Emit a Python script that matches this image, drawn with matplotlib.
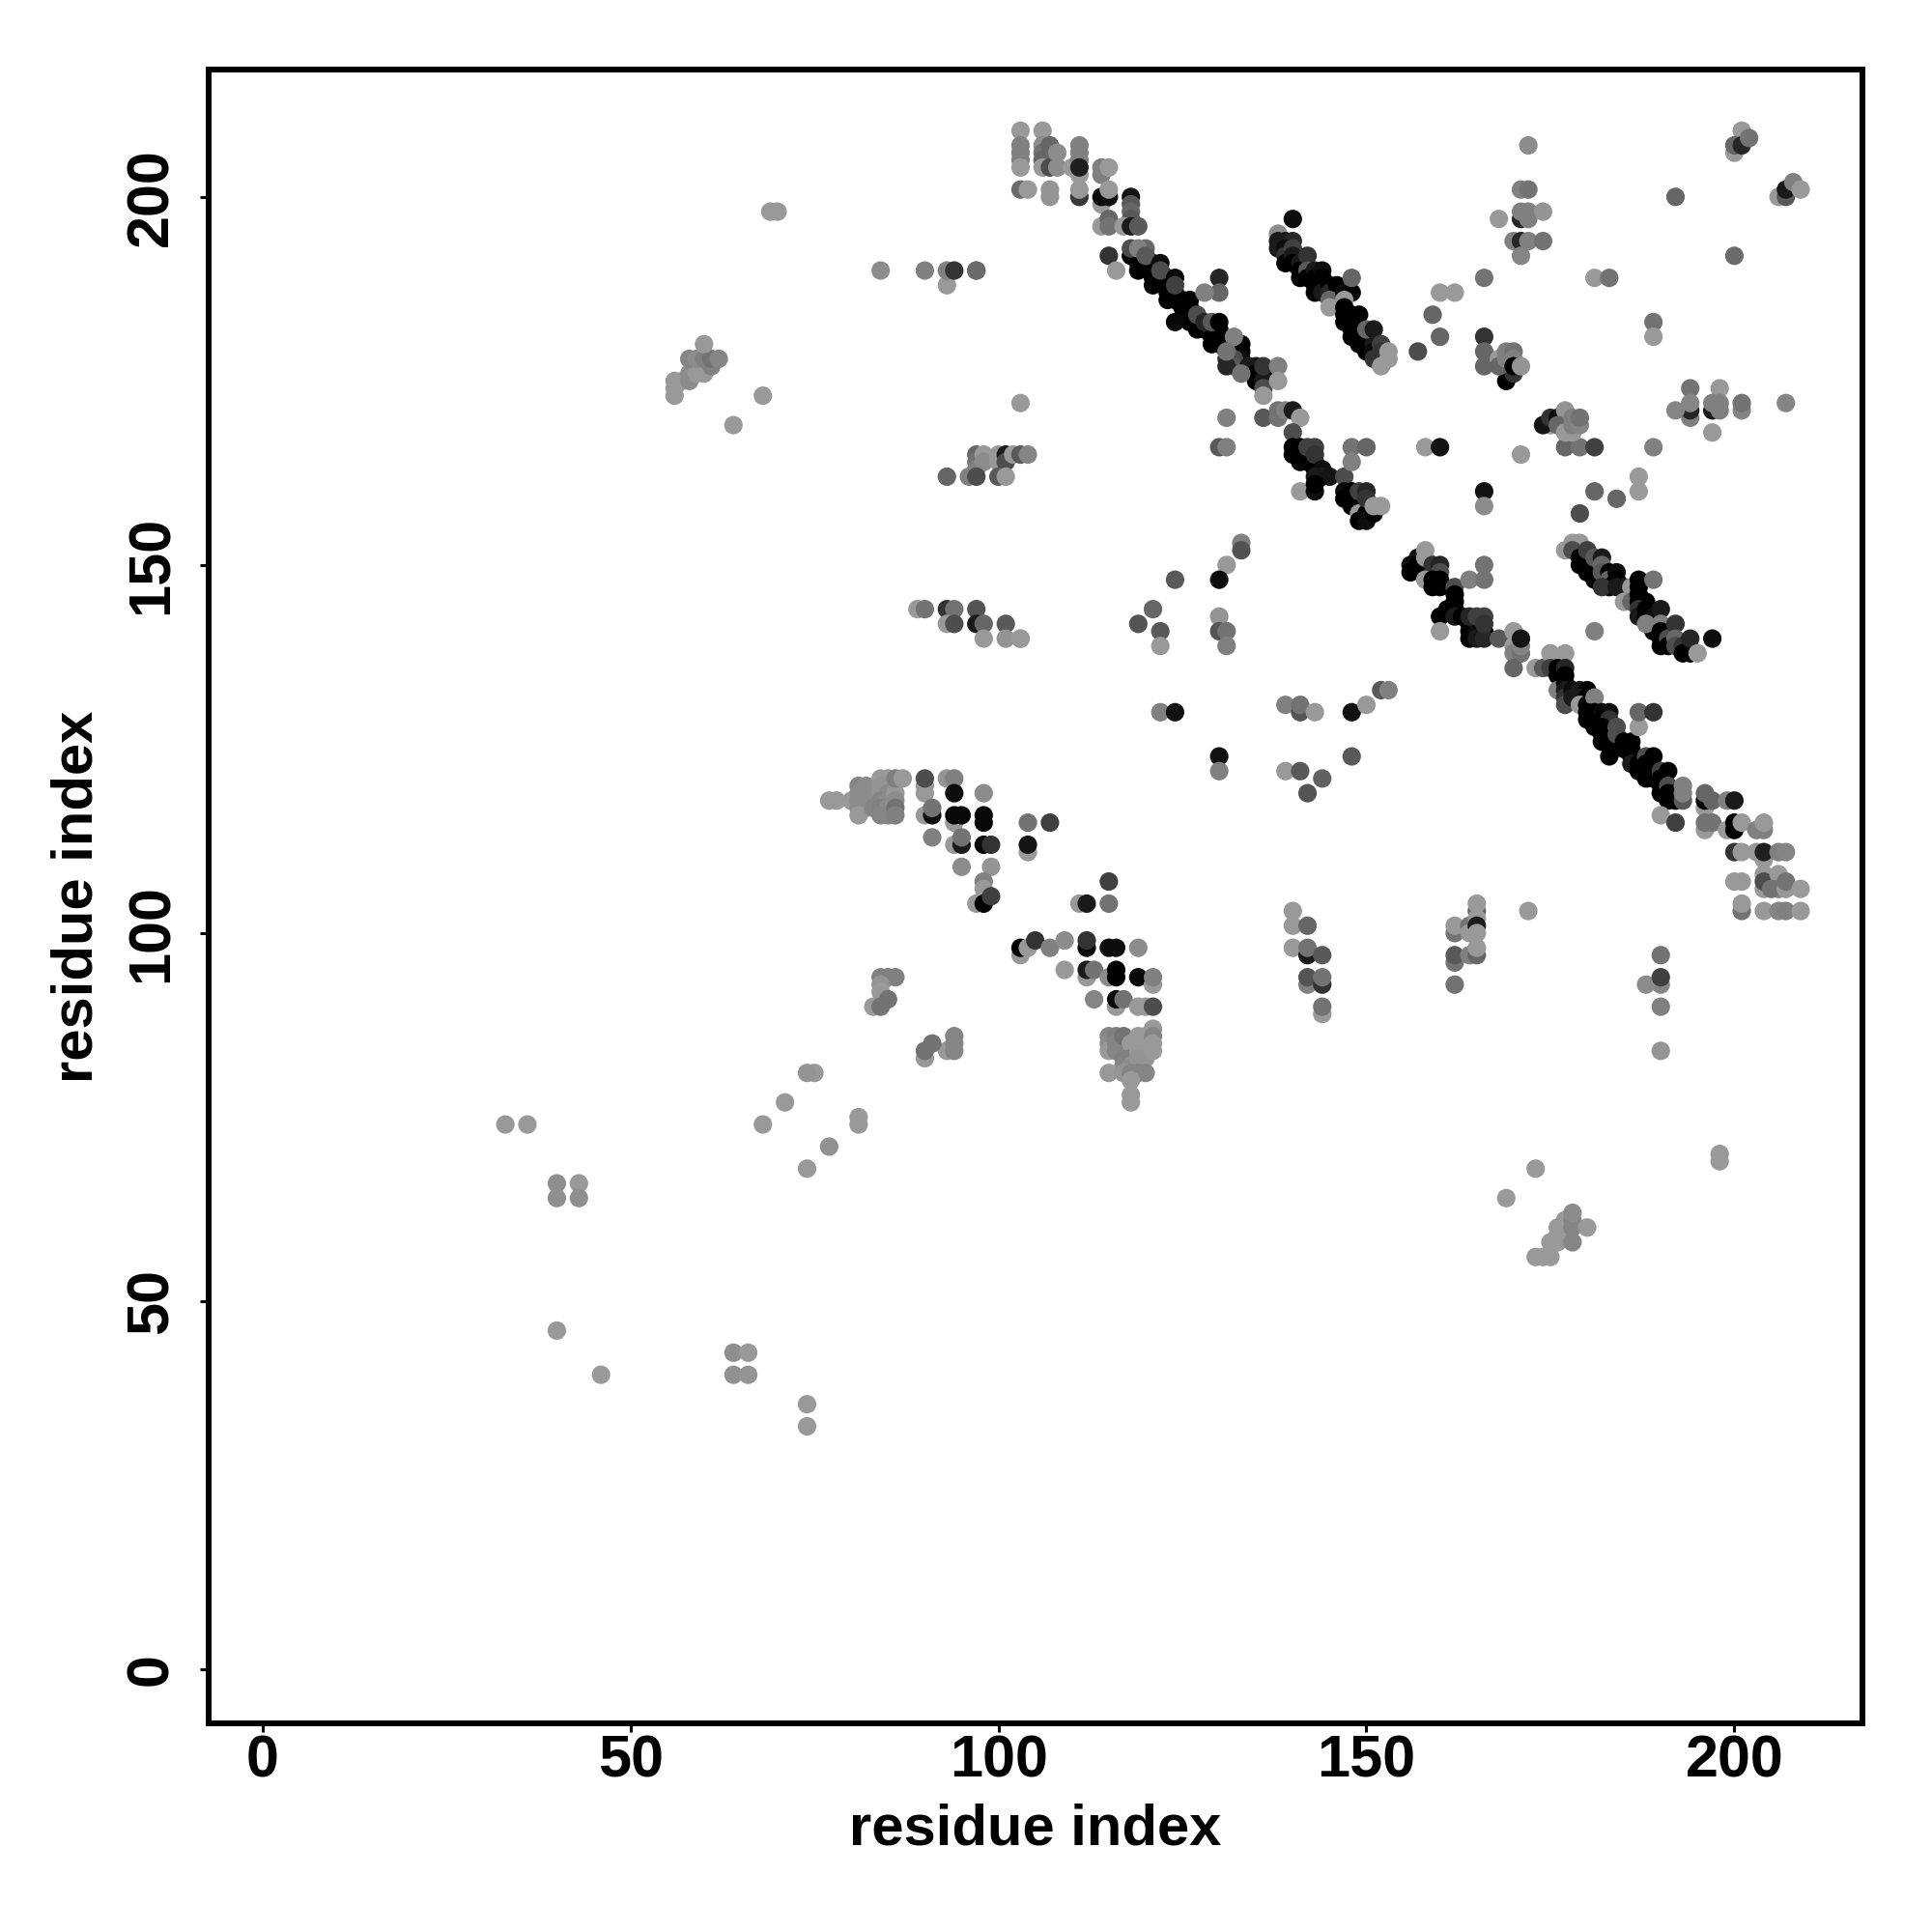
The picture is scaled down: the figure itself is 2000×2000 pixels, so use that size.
import matplotlib
matplotlib.use("Agg")
import matplotlib.pyplot as plt

# contacts as (residue x, residue y, grey level), drawn in the listed order
top_cluster = [
    (103, 209, .6), (103, 207, .5), (103, 206, .5), (103, 205, .5), (103, 204, .6),
    (103, 201, .42), (104, 201, .6), (106, 209, .6), (106, 207, .55), (106, 206, .45),
    (106, 205, .4), (106, 204, .6), (107, 204, .3), (107, 207, .4), (108, 206, .55),
    (108, 204, .55), (107, 201, .58), (107, 200, .58), (110, 204, .6), (111, 207, .5),
    (111, 206, .5), (111, 205, .5), (111, 203, .6), (111, 200, .22), (111, 201, .6),
    (111, 204, .12), (114, 204, .5), (114, 203, .5), (115, 204, .6), (114, 199, .6),
    (114, 200, .05), (115, 200, .05), (115, 201, .6), (118, 200, .07), (118, 199, .35),
    (118, 198, .4), (118, 197, .35), (114, 196, .6), (115, 197, .4), (115, 196, .45),
    (117, 196, .6), (118, 196, .1), (119, 196, .35), (115, 192, .2), (116, 190, .6),
    (97, 190, .42),
]

main_diag_upper = [
    (118, 192, 0), (119, 192, 0), (119, 191, 0), (119, 190, 0), (120, 191, 0), (120, 192, 0),
    (121, 190, 0), (121, 191, 0), (121, 189, 0), (121, 188, 0), (122, 190, 0), (122, 189, 0),
    (123, 189, 0), (123, 188, 0), (123, 187, 0), (123, 186, 0), (124, 187, 0), (124, 186, 0),
    (125, 186, 0), (125, 185, 0), (126, 186, 0), (126, 185, 0), (126, 184, 0), (127, 183, 0),
    (127, 182, 0), (126, 183, 0), (128, 182, 0), (129, 182, .12), (129, 181, 0), (130, 182, 0),
    (130, 181, 0), (129, 180, 0), (130, 180, 0), (131, 180, 0), (131, 179, 0), (132, 179, 0),
    (132, 180, 0), (133, 180, 0), (133, 179, 0), (133, 178, .05), (133, 177, .1), (132, 178, .3),
    (131, 178, .2), (132, 177, .35), (131, 177, .15), (134, 177, .1), (135, 177, .1), (135, 176, 0),
    (136, 176, 0), (135, 175, 0), (136, 175, .1), (118, 193, .3), (120, 193, .4), (119, 193, .5),
    (120, 192, .35), (122, 191, .05), (122, 190, .3), (124, 189, .03), (124, 188, .25),
    (124, 183, .03), (127, 184, .3), (128, 183, .15), (129, 183, .35), (130, 183, 0),
    (132, 181, .5), (131, 179, .45), (133, 176, .45), (136, 177, .2), (136, 174, .3),
    (136, 173, .6), (138, 177, .5), (138, 175, .6), (130, 189, .15), (130, 187, .4), (128, 187, .5),
]

second_diag = [
    (140, 197, .05), (138, 195, .55), (138, 194, .1), (138, 193, .1), (139, 194, .1), (140, 194, .15),
    (139, 193, .05), (139, 192, .2), (139, 191, 0), (140, 193, .25), (140, 192, .1), (140, 191, 0),
    (141, 191, .1), (141, 190, 0), (141, 189, 0), (142, 192, .2), (142, 190, .35), (142, 189, 0),
    (143, 190, .1), (143, 189, 0), (143, 188, 0), (143, 187, 0), (144, 190, .05), (144, 189, 0),
    (144, 188, 0), (144, 187, .1), (145, 188, 0), (145, 187, .15), (146, 188, 0), (146, 187, 0),
    (145, 186, .4), (145, 185, .6), (147, 187, .05), (148, 187, 0), (147, 186, .6), (148, 189, .4),
    (149, 184, 0), (147, 185, 0), (147, 184, 0), (147, 183, 0), (148, 184, 0), (148, 183, 0),
    (148, 182, 0), (148, 181, 0), (149, 182, 0), (149, 181, 0), (149, 180, 0), (150, 181, 0),
    (150, 180, 0), (150, 179, 0), (151, 180, .1), (151, 179, .05), (150, 182, .4), (151, 182, .1),
    (152, 180, .25), (152, 179, .2), (151, 178, .2), (152, 177, .6), (153, 179, .6), (153, 178, .6),
]

mid_diag = [
    (131, 170, .5), (136, 170, .35), (138, 170, .45), (138, 171, .45), (139, 171, .5), (140, 171, .1),
    (141, 170, .6), (140, 168, .3), (130, 166, .35), (131, 166, .5), (140, 166, 0), (140, 165, 0),
    (141, 166, 0), (141, 165, 0), (141, 164, 0), (142, 165, 0), (142, 164, 0), (143, 164, .05),
    (143, 163, 0), (142, 166, .25), (143, 166, .25), (143, 165, .2), (144, 163, .05), (144, 162, .1),
    (143, 162, .1), (145, 162, .08), (141, 160, .6), (143, 160, .05), (143, 161, 0), (147, 162, .3),
    (148, 166, .45), (150, 166, .4), (148, 164, .5), (147, 160, .05), (147, 159, 0), (148, 160, 0),
    (148, 159, 0), (148, 158, 0), (149, 158, 0), (149, 157, .6), (149, 156, 0), (150, 157, 0),
    (150, 156, .05), (151, 157, 0), (149, 160, .25), (150, 160, .15), (150, 159, .2), (151, 158, .6),
    (152, 158, .6), (103, 172, .6), (158, 166, .6), (160, 166, .07), (133, 153, .5), (133, 152, .32),
    (131, 150, .6), (130, 148, .05), (124, 148, .35), (121, 144, .4), (119, 142, .33), (122, 141, .35),
    (122, 139, .6), (130, 143, .58), (130, 141, .33), (131, 141, .45), (131, 139, .5), (103, 140, .6),
    (122, 130, .5), (124, 130, .07), (139, 131, .5), (141, 130, .33), (141, 131, .45), (143, 130, .6),
    (148, 130, .07), (150, 131, .6), (152, 133, .35), (153, 133, .5), (130, 124, .07), (130, 122, .5),
    (139, 122, .6), (141, 122, .35), (144, 121, .38), (142, 119, .33), (148, 124, .35),
]

upper_right = [
    (172, 207, .55), (171, 201, .5), (172, 201, .45), (168, 197, .6), (171, 197, .15), (171, 198, .5),
    (172, 198, .5), (172, 197, .5), (174, 198, .58), (170, 194, .5), (171, 194, .15), (172, 194, .5),
    (174, 194, .45), (171, 192, .52), (166, 189, .45), (160, 187, .6), (162, 187, .6), (159, 184, .4),
    (160, 181, .4), (157, 179, .3), (166, 181, .2), (166, 179, .4), (166, 177, .4), (169, 175, 0),
    (170, 176, .2), (168, 178, .6), (168, 177, .4), (169, 178, .5), (169, 179, .5), (170, 179, .45),
    (170, 178, .5), (170, 177, 0), (171, 177, .58), (181, 189, .6), (183, 189, .45), (189, 183, .45),
    (189, 181, .6), (192, 200, .4), (200, 192, .42), (200, 206, .6), (201, 209, .6), (200, 207, .4),
    (201, 207, .15), (202, 208, .45), (206, 200, .6), (207, 200, .35), (207, 201, .1), (208, 202, .5),
    (209, 201, .6), (207, 172, .52), (194, 174, .45), (194, 170, .5), (194, 171, .15), (194, 172, .52),
    (192, 171, .52), (198, 174, .6), (197, 171, .1), (197, 172, .5), (198, 172, .5), (198, 171, .5),
    (201, 171, .52), (201, 172, .45), (197, 168, .6), (189, 166, .5), (177, 166, .4), (179, 166, .45),
    (181, 166, .25), (171, 165, .6), (166, 160, .07), (166, 158, .55), (181, 160, .4), (184, 159, .4),
    (187, 162, .6), (187, 160, .6), (179, 157, .3), (175, 169, .6), (174, 169, .08), (175, 170, .2),
    (176, 170, .05), (177, 171, .58), (176, 169, .4), (177, 168, .6), (178, 168, .6), (178, 170, .5),
    (178, 169, .5), (179, 169, .52), (179, 170, .45),
]

diag_156_171 = [
    (156, 150, .05), (156, 149, 0), (157, 151, .05), (157, 150, 0), (158, 150, 0), (159, 149, 0),
    (158, 152, .6), (158, 151, .6), (159, 150, .2), (160, 150, .15), (160, 149, .3), (158, 148, .6),
    (159, 148, 0), (159, 147, 0), (160, 148, 0), (160, 147, 0), (162, 147, .3), (164, 148, .5),
    (166, 150, .45), (166, 148, .45), (162, 146, 0), (162, 145, 0), (162, 144, 0), (160, 143, 0),
    (161, 144, 0), (162, 143, .1), (163, 143, 0), (164, 142, 0), (164, 141, 0), (164, 140, 0),
    (165, 141, .05), (166, 141, 0), (165, 140, .1), (166, 140, .15), (164, 143, .15), (165, 143, .25),
    (166, 143, .25), (166, 142, .2), (168, 140, .35), (160, 141, .6), (170, 141, .6), (170, 139, .6),
    (170, 138, .5), (171, 138, .45), (171, 139, .52), (171, 140, .08), (170, 136, .4), (181, 141, .5),
]

diag_177_197 = [
    (177, 152, .6), (178, 153, .6), (179, 153, .6), (178, 152, .3), (179, 151, 0), (179, 150, 0),
    (180, 151, 0), (180, 150, 0), (180, 149, 0), (181, 150, 0), (181, 149, 0), (181, 148, 0),
    (180, 152, .25), (181, 151, .35), (182, 151, .1), (182, 150, .4), (182, 149, .35), (183, 149, 0),
    (183, 148, .4), (184, 149, .05), (184, 148, 0), (183, 147, 0), (182, 147, .2), (184, 147, .1),
    (185, 147, .1), (185, 145, .6), (186, 147, .6), (186, 145, .4), (187, 148, 0), (187, 147, 0),
    (187, 146, 0), (187, 145, 0), (188, 145, 0), (187, 144, .2), (187, 143, .1), (188, 144, 0),
    (188, 143, 0), (189, 148, .45), (189, 143, .05), (189, 142, 0), (189, 141, 0), (188, 142, .5),
    (190, 144, .1), (190, 142, .5), (190, 141, 0), (190, 140, 0), (190, 139, 0), (191, 140, .3),
    (191, 139, 0), (192, 142, .2), (192, 140, .4), (192, 139, .3), (193, 139, .2), (193, 138, 0),
    (194, 138, 0), (194, 140, .15), (197, 140, .05), (195, 138, .6),
]

main_diag_lower = [
    (173, 136, .6), (174, 136, .35), (175, 138, .6), (177, 138, .6), (175, 136, .25), (176, 136, 0),
    (176, 135, 0), (177, 136, .15), (177, 135, 0), (176, 133, .5), (177, 134, 0), (177, 133, .1),
    (177, 132, .2), (177, 131, .3), (178, 133, .05), (178, 132, .1), (179, 133, .1), (180, 133, 0),
    (179, 132, .1), (180, 132, 0), (179, 131, .6), (180, 131, 0), (181, 132, .5), (180, 130, 0),
    (180, 129, 0), (181, 130, 0), (181, 129, 0), (181, 128, 0), (182, 130, .03), (183, 130, .05),
    (182, 129, 0), (183, 129, .2), (182, 128, 0), (182, 127, 0), (182, 126, 0), (183, 127, 0),
    (183, 126, 0), (183, 124, 0), (184, 128, .3), (184, 127, .3), (185, 126, 0), (186, 126, 0),
    (185, 125, 0), (186, 125, 0), (186, 124, 0), (186, 123, .1), (187, 128, .6), (187, 130, .4),
    (189, 130, .2), (187, 123, 0), (187, 122, 0), (188, 124, .3), (189, 124, 0), (188, 123, 0),
    (188, 122, 0), (188, 121, 0), (189, 122, 0), (189, 121, 0), (190, 122, .25), (191, 122, 0),
    (190, 121, 0), (190, 120, 0), (190, 119, 0), (191, 120, .3), (191, 119, 0), (191, 118, 0),
    (192, 119, 0), (192, 118, 0), (193, 118, .35), (193, 119, .5), (193, 120, .5), (190, 116, .6),
    (192, 115, .25),
]

right_end = [
    (196, 117, .6), (196, 118, 0), (196, 119, .4), (197, 118, .4), (199, 118, .5), (200, 118, .1),
    (196, 114, .6), (196, 115, .45), (197, 115, .45), (199, 114, .6), (200, 114, 0), (200, 115, 0),
    (201, 115, .6), (203, 114, .5), (204, 114, .5), (204, 115, .6), (200, 111, .2), (201, 111, .6),
    (203, 111, .6), (204, 110, .6), (204, 111, .12), (206, 111, .5), (207, 111, .52), (200, 107, .6),
    (201, 107, .6), (204, 108, .6), (204, 106, .6), (204, 107, .3), (206, 108, .6), (206, 106, .5),
    (205, 106, .45), (207, 106, .6), (207, 107, .45), (209, 106, .6), (201, 103, .45), (201, 104, .6),
    (204, 103, .6), (206, 103, .52), (207, 103, .5), (209, 103, .6),
]

columns_140_198 = [
    (140, 103, .6), (140, 101, .6), (142, 101, .4), (140, 98, .6), (142, 97, .1), (142, 98, .45),
    (144, 97, .35), (142, 93, .5), (142, 94, .33), (144, 93, .2), (144, 94, .45), (144, 89, .6),
    (144, 90, .45), (162, 100, .45), (162, 101, .6), (164, 101, .45), (164, 100, .6), (165, 103, .4),
    (165, 104, .6), (165, 102, .6), (165, 101, .1), (165, 100, .6), (162, 96, .45), (162, 97, .35),
    (164, 97, .5), (165, 97, .4), (165, 98, .6), (162, 93, .45), (172, 103, .6), (190, 97, .45),
    (190, 93, .52), (188, 93, .55), (190, 94, .25), (190, 90, .5), (190, 84, .58), (198, 70, .6),
    (198, 69, .6), (173, 68, .6), (169, 64, .6),
]

low_right = [
    (173, 56, .6), (174, 56, .6), (175, 56, .6), (175, 58, .6), (176, 58, .6), (176, 59, .6),
    (177, 59, .6), (176, 60, .6), (177, 61, .6), (178, 58, .52), (178, 60, .52), (178, 61, .52),
    (178, 62, .55), (180, 60, .6),
]

cluster_80_90 = [
    (77, 118, .6), (78, 118, .6), (80, 118, .6), (81, 120, .52), (82, 120, .55), (81, 119, .55),
    (82, 119, .55), (81, 118, .55), (82, 118, .55), (81, 117, .55), (82, 117, .55), (81, 116, .6),
    (83, 117, .52), (84, 121, .6), (85, 121, .6), (84, 120, .58), (85, 120, .58), (84, 119, .58),
    (85, 119, .55), (84, 118, .52), (85, 118, .55), (84, 117, .5), (85, 117, .55), (84, 116, .52),
    (85, 116, .52), (86, 119, .6), (86, 118, .55), (86, 117, .45), (86, 116, .5), (86, 121, .5),
    (87, 121, .6), (90, 119, .6), (90, 120, .6), (90, 121, .3), (93, 121, .58), (94, 121, .5),
    (94, 119, .05), (98, 119, .55), (90, 116, .6), (91, 116, .05), (91, 117, .45), (94, 115, .6),
    (94, 116, .03), (95, 116, .03), (98, 116, .03), (98, 115, .03), (91, 113, .5), (94, 112, .6),
    (95, 112, .1), (95, 113, .45), (98, 112, .03), (99, 112, .2), (104, 115, .45), (107, 115, .25),
    (104, 111, .6), (104, 112, .08), (95, 109, .55), (99, 109, .58), (98, 107, .5), (97, 104, .6),
    (98, 106, .6), (98, 104, 0), (99, 105, .25),
]

cluster_103_121 = [
    (115, 107, .25), (111, 104, .6), (112, 104, .1), (115, 104, .45), (103, 97, .6), (103, 98, 0),
    (104, 98, .6), (105, 99, .2), (107, 98, .5), (109, 99, .55), (112, 98, .03), (112, 99, .2),
    (115, 98, .05), (116, 98, .05), (119, 98, .55), (109, 95, .6), (112, 94, .6), (112, 95, .1),
    (113, 95, .45), (115, 94, .55), (116, 95, 0), (116, 94, 0), (119, 94, .03), (121, 93, .6),
    (121, 94, .5), (113, 91, .52), (116, 90, .6), (116, 91, .03), (117, 91, .45), (119, 90, .6),
    (120, 90, .6), (121, 90, .3), (115, 86, .52), (115, 85, .55), (115, 84, .6), (116, 86, .5),
    (116, 85, .52), (116, 84, .52), (117, 86, .45), (117, 83, .5), (117, 82, .52), (118, 85, .6),
    (118, 83, .5), (118, 82, .55), (119, 86, .6), (119, 85, .6), (119, 84, .6), (119, 83, .58),
    (120, 86, .6), (120, 85, .6), (120, 83, .58), (121, 87, .6), (121, 86, .52), (121, 85, .6),
    (121, 84, .6), (115, 81, .6), (117, 81, .58), (118, 81, .52), (119, 81, .52), (120, 81, .52),
    (118, 80, .6), (118, 78, .6), (118, 77, .6),
]

left_strand = [
    (84, 94, .5), (85, 94, .5), (86, 94, .5), (84, 93, .58), (84, 92, .6), (83, 90, .6),
    (84, 90, .45), (85, 91, .45), (93, 84, .6), (94, 86, .52), (94, 85, .52), (94, 84, .52),
    (90, 83, .6), (90, 84, .45), (91, 85, .45), (81, 75, .6), (81, 74, .6), (77, 71, .57),
    (75, 81, .6), (74, 81, .58), (71, 77, .6), (68, 74, .6), (74, 68, .6), (33, 74, .6),
    (36, 74, .6), (40, 66, .56), (43, 66, .6), (40, 64, .56), (43, 64, .56), (40, 46, .6),
    (46, 40, .6), (64, 43, .56), (66, 43, .6), (64, 40, .57), (66, 40, .58), (74, 36, .6),
    (74, 33, .6), (70, 198, .6), (69, 198, .6),
]

upper_left = [
    (56, 173, .6), (56, 174, .6), (56, 175, .6), (57, 175, .6), (58, 175, .55), (58, 176, .55),
    (59, 176, .6), (60, 176, .6), (61, 177, .5), (58, 178, .52), (59, 178, .55), (60, 178, .5),
    (61, 178, .45), (62, 178, .52), (60, 180, .6), (68, 173, .6), (64, 169, .6),
    (84, 190, .55), (90, 190, .5), (93, 188, .6), (93, 190, .5), (94, 190, .2), (97, 190, .42),
]

band_160s = [
    (97, 165, .4), (97, 164, .45), (97, 163, .5), (98, 165, .6), (98, 164, .55), (100, 165, .6),
    (100, 164, .6), (101, 165, .1), (101, 164, .3), (102, 165, .6), (103, 165, .35), (104, 165, .52),
    (93, 162, .4), (96, 162, .5), (97, 162, .3), (100, 162, .35), (101, 162, .6),
    (89, 144, .6), (90, 144, .45), (93, 144, .2), (94, 144, .45), (97, 144, .33), (93, 142, .6),
    (94, 142, .3), (97, 142, .1), (98, 142, .4), (101, 142, .35), (98, 140, .6), (101, 140, .58),
    (103, 140, .6),
]

regions = [left_strand, upper_left, band_160s, low_right, columns_140_198, cluster_80_90,
           cluster_103_121, top_cluster, main_diag_upper, second_diag, mid_diag, upper_right,
           diag_156_171, diag_177_197, main_diag_lower, right_end]

res_x = [p[0] for r in regions for p in r]
res_y = [p[1] for r in regions for p in r]
shade = [str(p[2]) for r in regions for p in r]

tick_vals = [0, 50, 100, 150, 200]

plt.rcParams['font.family'] = ['Liberation Sans', 'DejaVu Sans']
plt.rcParams['font.weight'] = 'bold'

fig = plt.figure(figsize=(20, 20), dpi=100)
ax = fig.add_axes([0.108, 0.108, 0.856, 0.856])
ax.scatter(res_x, res_y, s=190, c=shade, linewidths=0, clip_on=True)

ax.set_xlim(-7.31, 217.4)
ax.set_ylim(-7.35, 217.3)
ax.set_xticks(tick_vals)
ax.set_yticks(tick_vals)
ax.tick_params(axis='both', length=6.5, width=2.2, labelsize=44)
ax.tick_params(axis='x', pad=2)
ax.tick_params(axis='y', pad=15)
for lab in ax.get_yticklabels():
    lab.set_rotation(90)
    lab.set_va('center')
for s in ax.spines.values():
    s.set_linewidth(4.3)

fig.text(0.536, 0.053, 'residue index', ha='center', va='center', fontsize=43, fontweight='bold')
fig.text(0.040, 0.536, 'residue index', ha='center', va='center', rotation=90, fontsize=43, fontweight='bold')

fig.savefig('out.png', dpi=100)
